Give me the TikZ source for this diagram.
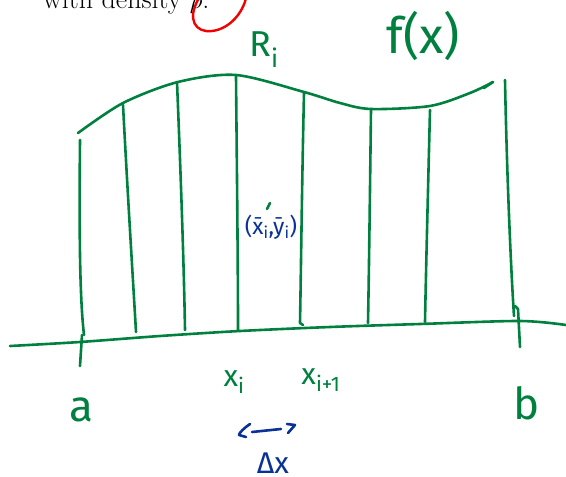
\documentclass[tikz,border=0pt]{standalone}
\usepackage{fontspec}
\newfontfamily\hand{Fira Sans}
\definecolor{pen}{RGB}{0,128,62}
\definecolor{bpen}{RGB}{10,50,150}
\definecolor{rpen}{RGB}{240,0,0}
\tikzset{
  stroke/.style={draw=pen, line width=2.6pt, line cap=round, line join=round},
  bstroke/.style={draw=bpen, line width=2.6pt, line cap=round, line join=round},
  lbl/.style={text=pen, inner sep=0pt},
  blbl/.style={text=bpen, inner sep=0pt},
}
\begin{document}
\begin{tikzpicture}[x=1pt,y=-1pt]
\useasboundingbox (0,0) rectangle (566,477);
% top cut text
\node[anchor=base west, inner sep=0pt] (top) at (43,8) {\fontsize{28}{30}\selectfont with density $\rho$.};
\draw[draw=rpen, line width=2.4pt, line cap=round] (199,-2) .. controls (186,20) and (196,33) .. (212,31) .. controls (230,29) and (243,12) .. (246,-2);
% axis
\draw[stroke] plot[smooth] coordinates {(10,346) (80,342) (160,336) (240,331) (330,327) (420,324) (520,321) (566,325)};
% f(x) curve
\draw[stroke] plot[smooth] coordinates {(78,133) (123,103) (178,82) (236,75) (304,92) (340,103) (371,109) (430,106) (470,93) (493,82)};
\draw[stroke] (493,82) -- (484,88);
% strips
\draw[stroke] (80,140) .. controls (79,240) and (80,300) .. (84,335);
\draw[stroke] (123,105) .. controls (128,200) and (133,280) .. (136,332);
\draw[stroke] (177,82) .. controls (181,180) and (184,270) .. (185,330);
\draw[stroke] (236,76) .. controls (237,180) and (238,270) .. (238,330);
\draw[stroke] (304,93) .. controls (302,180) and (301,270) .. (300,323) -- (303,325);
\draw[stroke] (371,110) .. controls (370,190) and (369,270) .. (368,323);
\draw[stroke] (430,110) .. controls (428,190) and (426,270) .. (425,322);
\draw[stroke] (505,80) .. controls (507,180) and (511,270) .. (514,316);
% ticks
\draw[stroke] (82,335) -- (80,366);
\draw[stroke] (515,306) -- (518,309) -- (520,347);
% labels
\node[lbl, font=\hand\fontsize{44}{44}\selectfont] (a) at (81,410) {a};
\node[lbl, font=\hand\fontsize{44}{44}\selectfont] (b) at (527,403) {b};
\node[lbl, font=\hand\fontsize{30}{30}\selectfont] (xi) at (234,382) {x\textsubscript{i}};
\node[lbl, font=\hand\fontsize{30}{30}\selectfont] (xi1) at (321,380) {x\textsubscript{i+1}};
\node[lbl, font=\hand\fontsize{36}{36}\selectfont] (R) at (264,50) {R\textsubscript{i}};
\node[lbl, font=\hand\fontsize{50}{50}\selectfont] (f) at (423,36) {f(x)};
\node[blbl, font=\hand\fontsize{23}{23}\selectfont] (c) at (271,227) {(\=x\textsubscript{i},\=y\textsubscript{i})};
\draw[stroke] (270,203) -- (267,209);
% Delta x arrow
\draw[bstroke] (250,424) .. controls (244,428) and (239,433) .. (239,435) -- (246,437);
\draw[bstroke] (252,432) -- (281,429);
\draw[bstroke] (287,424) -- (295,425) -- (288,433);
\node[blbl, font=\hand\fontsize{30}{30}\selectfont] (dx) at (273,463) {Δx};
\end{tikzpicture}
\end{document}
